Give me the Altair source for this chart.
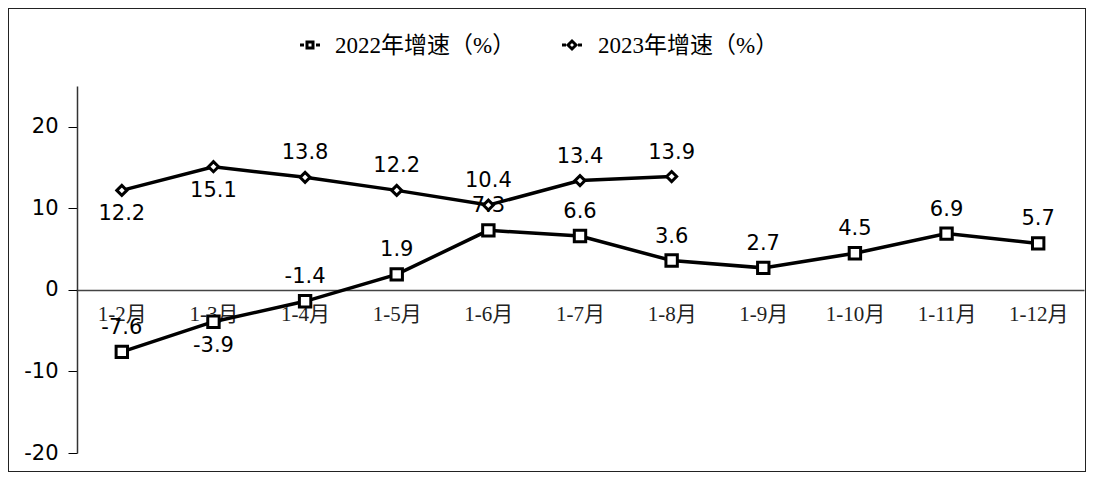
import altair as alt
import pandas as pd

# ---- data ----
months = ["1-2月", "1-3月", "1-4月", "1-5月", "1-6月", "1-7月",
          "1-8月", "1-9月", "1-10月", "1-11月", "1-12月"]
series = ["2022年增速（%）", "2023年增速（%）"]
v2022 = [-7.6, -3.9, -1.4, 1.9, 7.3, 6.6, 3.6, 2.7, 4.5, 6.9, 5.7]
v2023 = [12.2, 15.1, 13.8, 12.2, 10.4, 13.4, 13.9]
y_ticks = [-20, -10, 0, 10, 20]

# labels drawn below their point (others above)
below = {(series[0], "1-3月"), (series[1], "1-2月"), (series[1], "1-3月")}

rows = []
for m, v in zip(months, v2022):
    rows.append({"month": m, "value": v, "series": series[0]})
for m, v in zip(months, v2023):
    rows.append({"month": m, "value": v, "series": series[1]})
df = pd.DataFrame(rows)
df["pos"] = ["below" if (s, m) in below else "above" for s, m in zip(df["series"], df["month"])]
df["label"] = df["value"].map(lambda v: f"{v:.1f}")

W, H = 1078, 464

x_enc = alt.X(
    "month:N", sort=months, title=None,
    scale=alt.Scale(range=[68, 1076], padding=0.5),
    axis=alt.Axis(orient="bottom", offset=-182, ticks=False, labelAngle=0,
                  domainColor="#444", domainWidth=1.5,
                  labelFont="Liberation Serif, Noto Sans CJK SC", labelFontSize=21,
                  labelColor="#222", labelPadding=13),
)
y_enc = alt.Y(
    "value:Q", title=None,
    scale=alt.Scale(domain=[-20, 25], range=[445, 78], nice=False, zero=False),
    axis=alt.Axis(orient="left", offset=-69, values=y_ticks, grid=False,
                  domainColor="#333", domainWidth=1.5,
                  tickColor="#000", tickSize=9, tickWidth=1,
                  labelExpr="'' + datum.value",
                  labelFont="DejaVu Sans", labelFontSize=21, labelColor="#000",
                  labelPadding=10),
)

base = alt.Chart(df)

lines = base.mark_line(color="black", strokeWidth=3.5).encode(
    x=x_enc, y=y_enc, detail="series:N"
)

points = base.mark_point(filled=True, fill="white", stroke="black",
                         strokeWidth=3, opacity=1).encode(
    x=x_enc, y=y_enc,
    shape=alt.Shape("series:N", scale=alt.Scale(domain=series, range=["square", "diamond"]), legend=None),
    size=alt.Size("series:N", scale=alt.Scale(domain=series, range=[130, 100]), legend=None),
)

label_style = dict(font="DejaVu Sans", fontSize=21, color="black")
text_above = base.transform_filter(alt.datum.pos == "above").mark_text(
    dy=-24, **label_style
).encode(x=x_enc, y=y_enc, text="label:N")
text_below = base.transform_filter(alt.datum.pos == "below").mark_text(
    dy=24, **label_style
).encode(x=x_enc, y=y_enc, text="label:N")

# ---- legend (manual, to reproduce the dotted line-stub symbols) ----
leg_layers = []
leg_pos = [(302, "square", 36, 327), (564, "diamond", 64, 590)]
for name, (cx, shp, sz, tx) in zip(series, leg_pos):
    d = alt.Chart(pd.DataFrame({"series": [name]}))
    for a, b in [(cx - 10, cx - 6), (cx + 6, cx + 10)]:
        leg_layers.append(d.mark_rule(color="black", strokeWidth=3).encode(
            x=alt.value(a), x2=alt.value(b), y=alt.value(37)))
    leg_layers.append(d.mark_point(shape=shp, size=sz, filled=True, fill="white",
                                   stroke="black", strokeWidth=3, opacity=1).encode(
        x=alt.value(cx), y=alt.value(37)))
    leg_layers.append(d.mark_text(align="left", baseline="middle",
                                  font="Liberation Serif, Noto Sans CJK SC",
                                  fontSize=23, color="black").encode(
        x=alt.value(tx), y=alt.value(38), text="series:N"))

chart = alt.layer(lines, points, text_above, text_below, *leg_layers).properties(
    width=W, height=H,
    autosize=alt.AutoSizeParams(type="none"),
    padding=0,
).configure_view(stroke="#222", strokeWidth=2)

chart.save("out.html", embed_options={"renderer": "svg", "actions": False})
